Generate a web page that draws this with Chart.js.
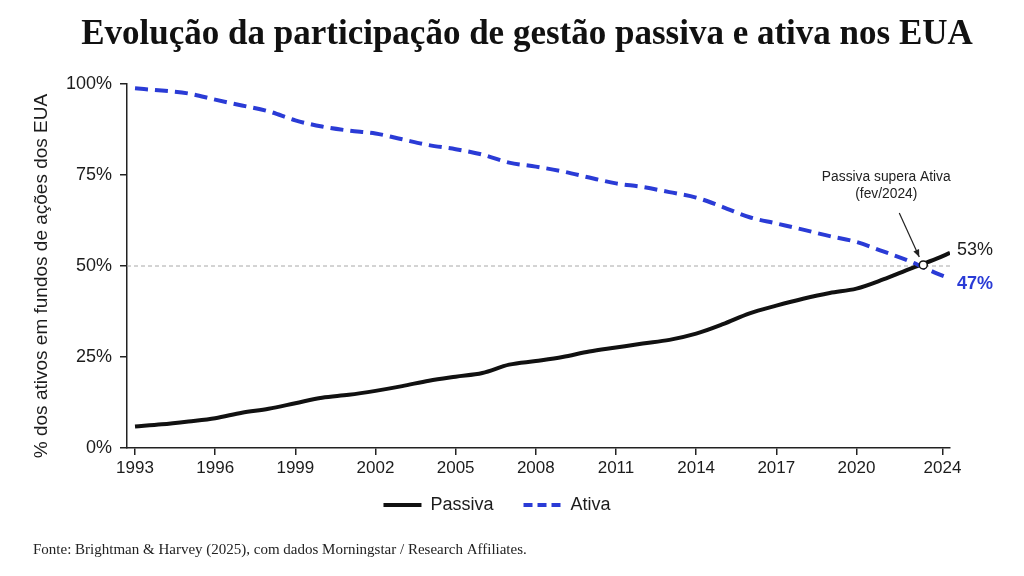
<!DOCTYPE html>
<html lang="pt">
<head>
<meta charset="utf-8">
<title>Evolução da participação de gestão passiva e ativa nos EUA</title>
<script src="https://cdn.jsdelivr.net/npm/chart.js@4.4.1/dist/chart.umd.min.js"></script>
<style>
  html, body { margin: 0; padding: 0; background: #fff; }
  #wrap { width: 1024px; height: 576px; position: relative; }
</style>
</head>
<body>
<div id="wrap"><canvas id="chart" width="1024" height="576"></canvas></div>
<script>
// Data
const years = [1993, 1994, 1995, 1996, 1997, 1998, 1999, 2000, 2001, 2002, 2003, 2004, 2005, 2006, 2007, 2008,
  2009, 2010, 2011, 2012, 2013, 2014, 2015, 2016, 2017, 2018, 2019, 2020, 2021, 2022, 2023, 2023.5];
const passiva = [5.9, 6.5, 7.3, 8.2, 9.7, 10.8, 12.3, 13.8, 14.6, 15.7, 17.0, 18.5, 19.6, 20.6, 22.9, 23.9,
  25.0, 26.5, 27.6, 28.7, 29.7, 31.4, 34.0, 37.0, 39.1, 41.0, 42.6, 43.8, 46.3, 49.2, 52.0, 53.6];
const ativa = [98.8, 98.2, 97.4, 95.7, 94.1, 92.5, 90.0, 88.3, 87.2, 86.4, 84.8, 83.2, 82.1, 80.6, 78.4, 77.3,
  76.0, 74.3, 72.7, 71.7, 70.3, 68.8, 66.2, 63.4, 61.7, 60.0, 58.2, 56.6, 54.0, 51.3, 48.0, 46.6];

// Crossing point (Passiva supera Ativa)
const crossYear = [2022.5];
const crossValue = [50.3];

// Axis ticks
const xTickValues = [1993, 1996, 1999, 2002, 2005, 2008, 2011, 2014, 2017, 2020, 2023.22];
const xTickLabels = ['1993', '1996', '1999', '2002', '2005', '2008', '2011', '2014', '2017', '2020', '2024'];
const yTickValues = [0, 25, 50, 75, 100];
const referenceLevel = 50;

const endLabels = ['53%', '47%'];

const BLUE = '#2a3bd6';
const INK = '#1c1c1c';
const SANS = '"Liberation Sans", Arial, sans-serif';
const SERIF = '"Liberation Serif", "Times New Roman", serif';

const toPoints = (xs, ys) => xs.map((x, i) => ({ x: x, y: ys[i] }));

// Custom drawing: title, source, y title, 50% line, end labels, annotation
const extrasPlugin = {
  id: 'extras',
  afterLayout(chart) {
    // pull the legend a bit closer to the x axis labels
    if (chart.legend) {
      chart.legend.top -= 12;
      chart.legend.bottom -= 12;
    }
  },
  beforeDatasetsDraw(chart) {
    const { ctx, chartArea, scales } = chart;
    const y50 = scales.y.getPixelForValue(referenceLevel);
    ctx.save();
    ctx.strokeStyle = '#a8a8a8';
    ctx.lineWidth = 1;
    ctx.setLineDash([4, 3]);
    ctx.beginPath();
    ctx.moveTo(chartArea.left, y50);
    ctx.lineTo(chartArea.right, y50);
    ctx.stroke();
    ctx.restore();
  },
  afterDraw(chart) {
    const { ctx, scales } = chart;
    ctx.save();

    // title
    ctx.fillStyle = '#111';
    ctx.font = 'bold 35px ' + SERIF;
    ctx.textAlign = 'center';
    ctx.textBaseline = 'middle';
    ctx.fillText('Evolução da participação de gestão passiva e ativa nos EUA', 527, 35);

    // source
    ctx.font = '15px ' + SERIF;
    ctx.textAlign = 'left';
    ctx.fillStyle = '#222';
    ctx.fillText('Fonte: Brightman & Harvey (2025), com dados Morningstar / Research Affiliates.', 33, 550);

    // y axis title
    ctx.save();
    ctx.translate(42, 276);
    ctx.rotate(-Math.PI / 2);
    ctx.font = '19px ' + SANS;
    ctx.fillStyle = INK;
    ctx.textAlign = 'center';
    ctx.fillText('% dos ativos em fundos de ações dos EUA', 0, 0);
    ctx.restore();

    // end labels
    const last = years.length - 1;
    const xEnd = scales.x.getPixelForValue(years[last]);
    ctx.textAlign = 'left';
    ctx.font = '18px ' + SANS;
    ctx.fillStyle = INK;
    ctx.fillText(endLabels[0], xEnd + 7, scales.y.getPixelForValue(passiva[last]) - 3);
    ctx.font = 'bold 18px ' + SANS;
    ctx.fillStyle = BLUE;
    ctx.fillText(endLabels[1], xEnd + 7, scales.y.getPixelForValue(ativa[last]) + 6);

    // annotation
    const cx = scales.x.getPixelForValue(crossYear[0]);
    const cy = scales.y.getPixelForValue(crossValue[0]);
    ctx.font = '13.8px ' + SANS;
    ctx.fillStyle = '#222';
    ctx.textAlign = 'center';
    ctx.fillText('Passiva supera Ativa', cx - 37, cy - 88);
    ctx.fillText('(fev/2024)', cx - 37, cy - 71);

    const x0 = cx - 24, y0 = cy - 52, x1 = cx - 4, y1 = cy - 8;
    ctx.strokeStyle = '#222';
    ctx.lineWidth = 1.2;
    ctx.beginPath();
    ctx.moveTo(x0, y0);
    ctx.lineTo(x1, y1);
    ctx.stroke();
    const ang = Math.atan2(y1 - y0, x1 - x0);
    ctx.fillStyle = '#222';
    ctx.beginPath();
    ctx.moveTo(x1, y1);
    ctx.lineTo(x1 - 8 * Math.cos(ang - 0.4), y1 - 8 * Math.sin(ang - 0.4));
    ctx.lineTo(x1 - 8 * Math.cos(ang + 0.4), y1 - 8 * Math.sin(ang + 0.4));
    ctx.closePath();
    ctx.fill();

    ctx.restore();
  }
};

const ctx = document.getElementById('chart').getContext('2d');
new Chart(ctx, {
  type: 'line',
  data: {
    datasets: [
      {
        label: 'Passiva',
        data: toPoints(years, passiva),
        borderColor: '#111',
        backgroundColor: '#111',
        borderWidth: 4,
        pointRadius: 0,
        pointStyle: 'line',
        cubicInterpolationMode: 'monotone',
        order: 2
      },
      {
        label: 'Ativa',
        data: toPoints(years, ativa),
        borderColor: BLUE,
        backgroundColor: BLUE,
        borderWidth: 4,
        borderDash: [13, 7],
        pointRadius: 0,
        pointStyle: 'line',
        cubicInterpolationMode: 'monotone',
        order: 1
      },
      {
        label: 'cruzamento',
        data: toPoints(crossYear, crossValue),
        showLine: false,
        pointRadius: 4,
        pointBackgroundColor: '#fff',
        pointBorderColor: '#111',
        pointBorderWidth: 1.5,
        order: 0
      }
    ]
  },
  options: {
    responsive: false,
    animation: false,
    devicePixelRatio: 1,
    layout: { padding: { top: 84, left: 44, right: 74, bottom: 40 } },
    plugins: {
      title: { display: false },
      tooltip: { enabled: false },
      legend: {
        position: 'bottom',
        labels: {
          usePointStyle: true,
          pointStyleWidth: 38,
          boxHeight: 18,
          padding: 30,
          color: INK,
          font: { family: SANS, size: 18 },
          generateLabels: chart => Chart.defaults.plugins.legend.labels.generateLabels(chart)
            .filter(item => item.datasetIndex < 2)
            .map(item => Object.assign(item, {
              lineWidth: 4,
              lineDash: chart.data.datasets[item.datasetIndex].borderDash ? [9, 5] : []
            })),
          sort: (a, b) => a.datasetIndex - b.datasetIndex
        }
      }
    },
    scales: {
      x: {
        type: 'linear',
        min: 1992.7,
        max: 2023.5,
        afterBuildTicks: axis => { axis.ticks = xTickValues.map(v => ({ value: v })); },
        afterFit: axis => { axis.height = 30; },
        ticks: {
          autoSkip: false,
          maxRotation: 0,
          padding: 3,
          color: INK,
          font: { family: SANS, size: 17 },
          callback: (value, index) => xTickLabels[index]
        },
        grid: { drawOnChartArea: false, drawTicks: true, tickLength: 7, color: '#222', lineWidth: 1.5 },
        border: { display: true, color: '#222', width: 1.5 }
      },
      y: {
        min: 0,
        max: 100,
        afterBuildTicks: axis => { axis.ticks = yTickValues.map(v => ({ value: v })); },
        afterFit: axis => { axis.width = 83; },
        ticks: {
          padding: 8,
          color: INK,
          font: { family: SANS, size: 18 },
          callback: value => value + '%'
        },
        grid: { drawOnChartArea: false, drawTicks: true, tickLength: 7, color: '#222', lineWidth: 1.5 },
        border: { display: true, color: '#222', width: 1.5 }
      }
    }
  },
  plugins: [extrasPlugin]
});
</script>
</body>
</html>
